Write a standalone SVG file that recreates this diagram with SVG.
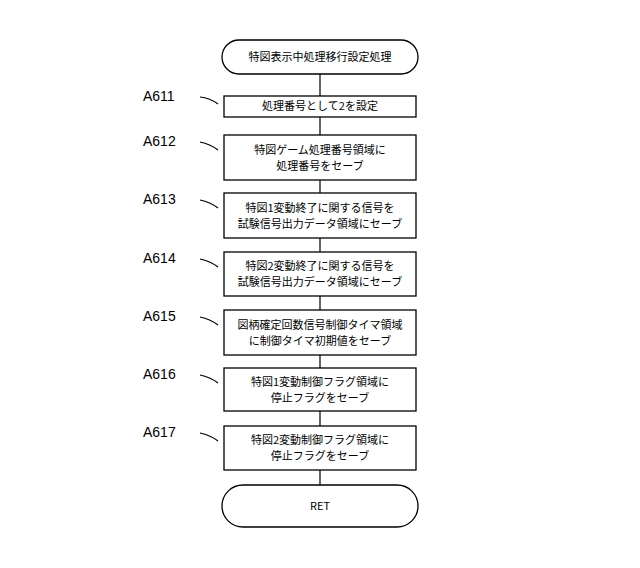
<svg xmlns="http://www.w3.org/2000/svg" width="640" height="568" viewBox="0 0 640 568">
<style>
.b{fill:#fff;stroke:#000;stroke-width:1.3}
.t{font-family:"Noto Sans CJK JP","Liberation Sans",sans-serif;font-size:11px;text-anchor:middle}
.l{font-family:"Liberation Sans",sans-serif;font-size:14px}
.c{stroke:#000;stroke-width:1.2;fill:none}
</style>
<rect width="640" height="568" fill="#fff"/>
<g id="connectors">
<line class="c" x1="320" y1="74" x2="320" y2="96"/>
<line class="c" x1="320" y1="117" x2="320" y2="135"/>
<line class="c" x1="320" y1="180" x2="320" y2="193"/>
<line class="c" x1="320" y1="238" x2="320" y2="252"/>
<line class="c" x1="320" y1="296" x2="320" y2="310"/>
<line class="c" x1="320" y1="355" x2="320" y2="368"/>
<line class="c" x1="320" y1="411" x2="320" y2="426"/>
<line class="c" x1="320" y1="470" x2="320" y2="485"/>
<path class="c" d="M200 97 Q210 98 218 104 M200 142 Q210 144 218 150 M200 200 Q210 202 218 208 M200 259 Q210 261 218 267 M200 317 Q210 319 218 325 M200 375 Q210 377 218 383 M200 433 Q210 435 218 441"/>
</g>
<g id="start"><rect class="b" x="222" y="40" width="196" height="34" rx="17"/><text class="t" x="320" y="61">特図表示中処理移行設定処理</text></g>
<g id="A611"><rect class="b" x="224" y="96" width="192" height="21"/><text class="t" x="320" y="110">処理番号として2を設定</text><text class="l" x="143" y="101">A611</text></g>
<g id="A612"><rect class="b" x="224" y="135" width="192" height="45"/><text class="t" x="320" y="154">特図ゲーム処理番号領域に</text><text class="t" x="320" y="170">処理番号をセーブ</text><text class="l" x="143" y="146">A612</text></g>
<g id="A613"><rect class="b" x="224" y="193" width="192" height="45"/><text class="t" x="320" y="212">特図1変動終了に関する信号を</text><text class="t" x="320" y="228">試験信号出力データ領域にセーブ</text><text class="l" x="143" y="204">A613</text></g>
<g id="A614"><rect class="b" x="224" y="252" width="192" height="44"/><text class="t" x="320" y="270">特図2変動終了に関する信号を</text><text class="t" x="320" y="286">試験信号出力データ領域にセーブ</text><text class="l" x="143" y="263">A614</text></g>
<g id="A615"><rect class="b" x="224" y="310" width="192" height="45"/><text class="t" x="320" y="329">図柄確定回数信号制御タイマ領域</text><text class="t" x="320" y="345">に制御タイマ初期値をセーブ</text><text class="l" x="143" y="321">A615</text></g>
<g id="A616"><rect class="b" x="224" y="368" width="192" height="43"/><text class="t" x="320" y="386">特図1変動制御フラグ領域に</text><text class="t" x="320" y="402">停止フラグをセーブ</text><text class="l" x="143" y="379">A616</text></g>
<g id="A617"><rect class="b" x="224" y="426" width="192" height="44"/><text class="t" x="320" y="444">特図2変動制御フラグ領域に</text><text class="t" x="320" y="460">停止フラグをセーブ</text><text class="l" x="143" y="437">A617</text></g>
<g id="end"><rect class="b" x="222" y="485" width="196" height="42" rx="21"/><text class="t" x="320" y="510">RET</text></g>
</svg>
